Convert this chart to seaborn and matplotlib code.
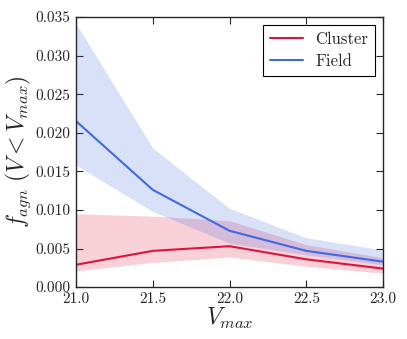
import numpy as np
import pandas as pd
import seaborn as sns
import matplotlib.pyplot as plt

vmax = [21.0, 21.5, 22.0, 22.5, 23.0]
cluster = [0.0029, 0.0047, 0.0053, 0.0036, 0.0024]
cluster_lo = [0.0021, 0.0032, 0.0039, 0.0027, 0.0018]
cluster_hi = [0.0095, 0.0092, 0.0086, 0.0055, 0.0038]
field = [0.0215, 0.0126, 0.0073, 0.0047, 0.0033]
field_lo = [0.0158, 0.0098, 0.0057, 0.0042, 0.0029]
field_hi = [0.0341, 0.0180, 0.0102, 0.0064, 0.0048]

sns.set_style('ticks')
plt.rcParams['font.family'] = ['cmr10', 'DejaVu Serif']
plt.rcParams['mathtext.fontset'] = 'cm'
plt.rcParams['axes.formatter.use_mathtext'] = True

df = pd.DataFrame({'vmax': vmax * 2,
                   'fagn': cluster + field,
                   'sample': ['Cluster'] * 5 + ['Field'] * 5})
colors = {'Cluster': '#DC143C', 'Field': '#4169E1'}

fig = plt.figure(figsize=(4.07, 3.39), dpi=100)
ax = fig.add_axes([0.187, 0.153, 0.754, 0.797])
sns.lineplot(data=df, x='vmax', y='fagn', hue='sample', palette=colors, lw=1.5, ax=ax)
ax.fill_between(vmax, cluster_lo, cluster_hi, color=colors['Cluster'], alpha=0.2, lw=0)
ax.fill_between(vmax, field_lo, field_hi, color=colors['Field'], alpha=0.2, lw=0)

ax.set_xlim(21, 23)
ax.set_ylim(0, 0.035)
ax.set_xticks([21.0, 21.5, 22.0, 22.5, 23.0])
ax.set_yticks(np.arange(0, 0.0351, 0.005))
ax.set_xticklabels(['21.0', '21.5', '22.0', '22.5', '23.0'])
ax.set_yticklabels(['%.3f' % v for v in np.arange(0, 0.0351, 0.005)])
ax.tick_params(direction='in', top=True, right=True, labelsize=11, length=5, pad=4)
for s in ax.spines.values():
    s.set_linewidth(1.0)
ax.set_xlabel(r'$V_{max}$', fontsize=17, labelpad=0)
ax.set_ylabel(r'$f_{agn}\ (V<V_{max})$', fontsize=17, labelpad=2)

leg = ax.legend(loc='upper right', fontsize=12, fancybox=False, framealpha=1,
                edgecolor='black', handlelength=2.0, handletextpad=0.7,
                labelspacing=0.4)
leg.get_frame().set_linewidth(0.8)

fig.savefig('out.png', dpi=100)
